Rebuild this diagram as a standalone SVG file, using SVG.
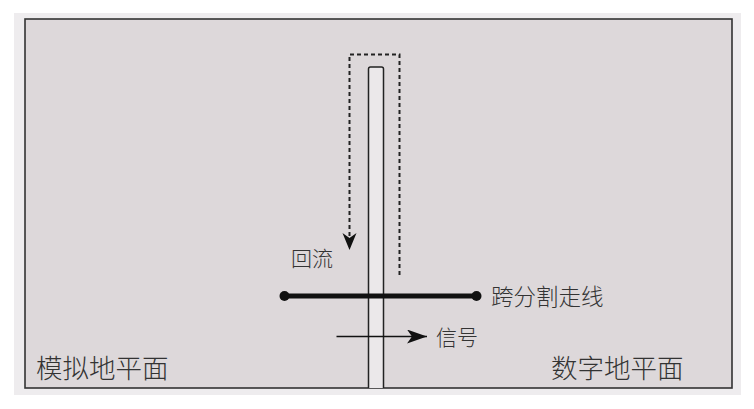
<svg xmlns="http://www.w3.org/2000/svg" width="754" height="409" viewBox="0 0 754 409">
<defs>
<style>
.lbl{font-family:"Noto Sans CJK SC","Noto Sans",sans-serif;font-weight:300;fill:#333;}
.dash{fill:none;stroke:#222;stroke-width:2;stroke-dasharray:4 3;}
</style>
<marker id="ah" viewBox="0 0 20 14" refX="20" refY="7" markerWidth="20" markerHeight="14" markerUnits="userSpaceOnUse" orient="auto">
<path d="M0,0 L20,7 L0,14 L5,7 Z" fill="#111"/>
</marker>
</defs>
<rect x="0" y="0" width="754" height="409" fill="#ffffff"/>
<rect x="14" y="13" width="727" height="382" fill="#eeecee"/>
<g id="analog-plane">
<rect x="25" y="19" width="707" height="369" fill="#ddd8da" stroke="#333" stroke-width="1.6"/>
<text class="lbl" x="36" y="378" font-size="26.5">模拟地平面</text>
</g>
<g id="digital-plane">
<text class="lbl" x="551" y="378" font-size="26.5">数字地平面</text>
</g>
<g id="trace">
<path d="M368.5,388 V69 Q368.5,67 370.5,67 H381.5 Q383.5,67 383.5,69 V388" fill="#ebe8ea" stroke="#222" stroke-width="1.5"/>
</g>
<g id="connectors">
<path class="dash" d="M349.5,236 V54.5 H399.5 V278"/>
<path d="M342.5,233 L349.5,250 L356.5,233 L349.5,238 Z" fill="#111"/>
<line x1="284" y1="296" x2="477" y2="296" stroke="#111" stroke-width="5"/>
<circle cx="284.5" cy="296" r="5" fill="#111"/>
<circle cx="476.5" cy="296" r="5" fill="#111"/>
<line x1="336.5" y1="336.5" x2="427" y2="336.5" stroke="#111" stroke-width="1.6" marker-end="url(#ah)"/>
</g>
<g id="labels">
<text class="lbl" x="291" y="266" font-size="21">回流</text>
<text class="lbl" x="491" y="305" font-size="22.5">跨分割走线</text>
<text class="lbl" x="436" y="345" font-size="21">信号</text>
</g>
</svg>
